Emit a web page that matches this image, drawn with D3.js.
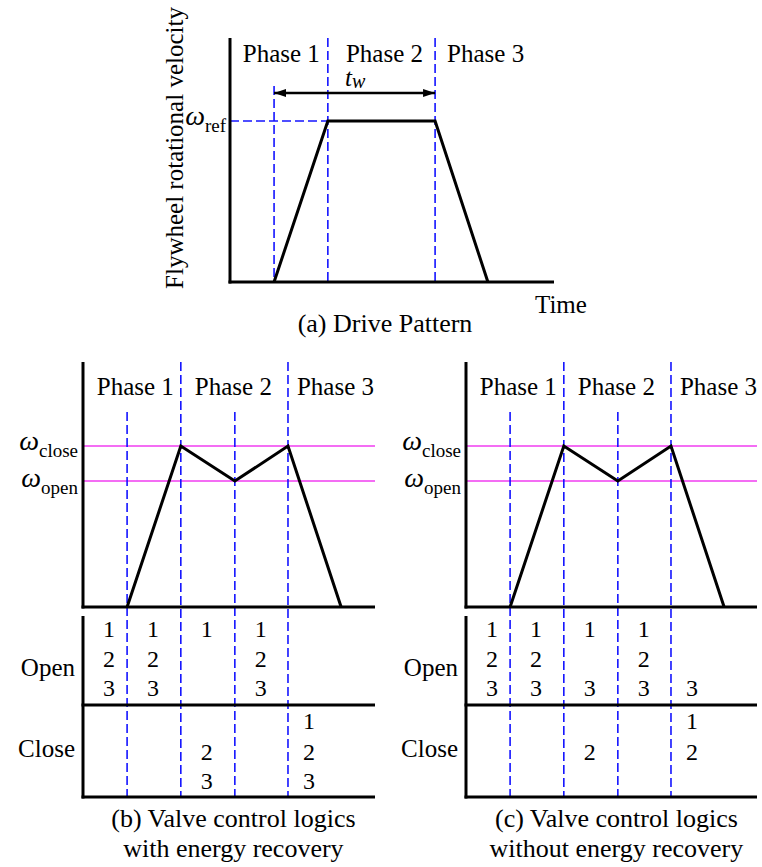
<!DOCTYPE html>
<html>
<head>
<meta charset="utf-8">
<script src="https://cdn.jsdelivr.net/npm/d3@7"></script>
<style>
  html, body { margin: 0; padding: 0; background: #fff; }
  svg { display: block; }
</style>
</head>
<body>
<svg id="chart" width="762" height="867" font-family="'Liberation Serif', Tinos, 'Times New Roman', Times, 'DejaVu Serif', serif"></svg>
<script>
// ---- Data ----
const phaseNames = ["Phase 1", "Phase 2", "Phase 3"];

// (a) Drive pattern: time instants (0–100 time units) and normalised velocity
const driveTime = [13.6, 30.2, 63.3, 79.6];
const driveSpeed = [0, 0.66, 0.66, 0];
const omegaRef = 0.66;

// (b), (c) Velocity profile with valve switching
const valveTime = [15.1, 33.5, 52.0, 70.2, 88.4];
const valveSpeed = [0, 0.657, 0.514, 0.657, 0];
const omegaClose = 0.657;
const omegaOpen = 0.514;

// Valve numbers per control interval
const openWithRecovery = [[1, 2, 3], [1, 2, 3], [1], [1, 2, 3], []];
const closeWithRecovery = [[], [], [2, 3], [], [1, 2, 3]];
const openWithoutRecovery = [[1, 2, 3], [1, 2, 3], [1, 3], [1, 2, 3], [3]];
const closeWithoutRecovery = [[], [], [2], [], [1, 2]];

const captionB = ["(b) Valve control logics", "with energy recovery"];
const captionC = ["(c) Valve control logics", "without energy recovery"];

// ---- Drawing ----
const svg = d3.select("#chart");
const BLUE = "#1414ff", MAGENTA = "#f03cf0";
const DASH = "9,4";

function omegaLabel(g, x, y, sub) {
  const t = g.append("text").attr("x", x).attr("y", y).attr("text-anchor", "end");
  t.append("tspan").attr("font-style", "italic").attr("font-size", 28).text("ω");
  t.append("tspan").attr("font-size", 19).attr("dy", 7).text(sub);
}

// Arrow markers for the t_w span
const defs = svg.append("defs");
["start", "end"].forEach(k => {
  defs.append("marker").attr("id", "arrow-" + k)
    .attr("viewBox", "0 0 12 8").attr("refX", k === "end" ? 12 : 0).attr("refY", 4)
    .attr("markerWidth", 12).attr("markerHeight", 8).attr("markerUnits", "userSpaceOnUse")
    .attr("orient", "auto")
    .append("path")
    .attr("d", k === "end" ? "M0,0 L12,4 L0,8 Z" : "M12,0 L0,4 L12,8 Z")
    .attr("fill", "#000");
});

// ===== (a) Drive Pattern =====
(function drawDrive() {
  const g = svg.append("g");
  const x = d3.scaleLinear().domain([0, 100]).range([230, 554]);
  const y = d3.scaleLinear().domain([0, 1]).range([282, 38]);

  // Dashed guides
  g.append("line").attr("x1", x(driveTime[0])).attr("x2", x(driveTime[0]))
    .attr("y1", 86).attr("y2", y(0))
    .attr("stroke", BLUE).attr("stroke-width", 1.6).attr("stroke-dasharray", DASH);
  [driveTime[1], driveTime[2]].forEach(t => {
    g.append("line").attr("x1", x(t)).attr("x2", x(t)).attr("y1", y(1)).attr("y2", y(0))
      .attr("stroke", BLUE).attr("stroke-width", 1.6).attr("stroke-dasharray", DASH);
  });
  g.append("line").attr("x1", x(0)).attr("x2", x(driveTime[1]))
    .attr("y1", y(omegaRef)).attr("y2", y(omegaRef))
    .attr("stroke", BLUE).attr("stroke-width", 1.6).attr("stroke-dasharray", DASH);

  // Axes
  g.append("line").attr("x1", x(0)).attr("x2", x(0)).attr("y1", y(1)).attr("y2", y(0) + 1.5)
    .attr("stroke", "#000").attr("stroke-width", 3);
  g.append("line").attr("x1", x(0) - 1.5).attr("x2", x(100)).attr("y1", y(0)).attr("y2", y(0))
    .attr("stroke", "#000").attr("stroke-width", 3);

  // Velocity profile
  const line = d3.line().x((d, i) => x(driveTime[i])).y(d => y(d));
  g.append("path").attr("d", line(driveSpeed))
    .attr("fill", "none").attr("stroke", "#000").attr("stroke-width", 3)
    .attr("stroke-linejoin", "miter");

  // t_w span arrow
  g.append("line").attr("x1", x(driveTime[0])).attr("x2", x(driveTime[2]))
    .attr("y1", 93).attr("y2", 93)
    .attr("stroke", "#000").attr("stroke-width", 2.5)
    .attr("marker-start", "url(#arrow-start)").attr("marker-end", "url(#arrow-end)");
  const tw = g.append("text").attr("x", 345).attr("y", 86).attr("font-style", "italic");
  tw.append("tspan").attr("font-size", 25).text("t");
  tw.append("tspan").attr("font-size", 20).attr("dy", 2).text("w");

  // Phase labels
  const b = [x(0), x(driveTime[1]), x(driveTime[2]), x(100)];
  g.append("text").attr("x", b[1] - 8).attr("y", 62).attr("text-anchor", "end")
    .attr("font-size", 25).text(phaseNames[0]);
  g.append("text").attr("x", (b[1] + b[2]) / 2 + 3).attr("y", 62).attr("text-anchor", "middle")
    .attr("font-size", 25).text(phaseNames[1]);
  g.append("text").attr("x", b[2] + 12).attr("y", 62).attr("text-anchor", "start")
    .attr("font-size", 25).text(phaseNames[2]);

  omegaLabel(g, x(0) - 4, 125, "ref");

  g.append("text").attr("x", 535).attr("y", 313).attr("font-size", 25).text("Time");
  g.append("text").attr("transform", "translate(183,148) rotate(-90)")
    .attr("text-anchor", "middle").attr("font-size", 25).text("Flywheel rotational velocity");
  g.append("text").attr("x", 385).attr("y", 332).attr("text-anchor", "middle")
    .attr("font-size", 26).text("(a) Drive Pattern");
})();

// ===== (b), (c) Valve control logics =====
function drawValvePanel(x0, openSets, closeSets, caption) {
  const g = svg.append("g");
  const x = d3.scaleLinear().domain([0, 100]).range([x0, x0 + 292]);
  const y = d3.scaleLinear().domain([0, 1]).range([607, 362]);
  const tableTop = 616, tableMid = 705, tableBottom = 797;

  // Magenta thresholds
  [omegaClose, omegaOpen].forEach(w => {
    g.append("line").attr("x1", x(0)).attr("x2", Math.min(x(100), 757))
      .attr("y1", y(w)).attr("y2", y(w))
      .attr("stroke", MAGENTA).attr("stroke-width", 1.5);
  });

  // Dashed switching guides (phase boundaries run full height)
  valveTime.slice(0, 4).forEach((t, i) => {
    g.append("line").attr("x1", x(t)).attr("x2", x(t))
      .attr("y1", i % 2 === 1 ? y(1) : 412).attr("y2", tableBottom)
      .attr("stroke", BLUE).attr("stroke-width", 1.6).attr("stroke-dasharray", DASH);
  });

  // Axes
  g.append("line").attr("x1", x(0)).attr("x2", x(0)).attr("y1", y(1)).attr("y2", y(0) + 1.5)
    .attr("stroke", "#000").attr("stroke-width", 3);
  g.append("line").attr("x1", x(0) - 1.5).attr("x2", Math.min(x(100), 757)).attr("y1", y(0)).attr("y2", y(0))
    .attr("stroke", "#000").attr("stroke-width", 3);

  // Table frame
  g.append("line").attr("x1", x(0)).attr("x2", x(0)).attr("y1", tableTop).attr("y2", tableBottom + 1.5)
    .attr("stroke", "#000").attr("stroke-width", 3);
  [tableMid, tableBottom].forEach(yy => {
    g.append("line").attr("x1", x(0) - 1.5).attr("x2", Math.min(x(100), 757)).attr("y1", yy).attr("y2", yy)
      .attr("stroke", "#000").attr("stroke-width", 3);
  });

  // Velocity profile
  const line = d3.line().x((d, i) => x(valveTime[i])).y(d => y(d));
  g.append("path").attr("d", line(valveSpeed))
    .attr("fill", "none").attr("stroke", "#000").attr("stroke-width", 3);

  // Phase labels
  const b1 = x(valveTime[1]), b2 = x(valveTime[3]);
  g.append("text").attr("x", b1 - 7).attr("y", 395).attr("text-anchor", "end")
    .attr("font-size", 25).text(phaseNames[0]);
  g.append("text").attr("x", (b1 + b2) / 2 - 1).attr("y", 395).attr("text-anchor", "middle")
    .attr("font-size", 25).text(phaseNames[1]);
  g.append("text").attr("x", b2 + 9).attr("y", 395).attr("text-anchor", "start")
    .attr("font-size", 25).text(phaseNames[2]);

  omegaLabel(g, x(0) - 5, 450, "close");
  omegaLabel(g, x(0) - 5, 487, "open");

  g.append("text").attr("x", x(0) - 8).attr("y", 676).attr("text-anchor", "end")
    .attr("font-size", 25).text("Open");
  g.append("text").attr("x", x(0) - 8).attr("y", 757).attr("text-anchor", "end")
    .attr("font-size", 25).text("Close");

  // Valve numbers in each interval
  const lefts = [0, ...valveTime.slice(0, 4)].map(t => x(t));
  const colX = lefts.map((l, i) => l + (i === 4 ? 21 : 26));
  const openRows = [637, 667, 696], closeRows = [729, 760, 789];
  openSets.forEach((set, i) => set.forEach(v => {
    g.append("text").attr("x", colX[i]).attr("y", openRows[v - 1]).attr("text-anchor", "middle")
      .attr("font-size", 24).text(v);
  }));
  closeSets.forEach((set, i) => set.forEach(v => {
    g.append("text").attr("x", colX[i]).attr("y", closeRows[v - 1]).attr("text-anchor", "middle")
      .attr("font-size", 24).text(v);
  }));

  // Caption
  const cx = (b1 + b2) / 2 - 1;
  g.append("text").attr("x", cx).attr("y", 827).attr("text-anchor", "middle")
    .attr("font-size", 26).text(caption[0]);
  g.append("text").attr("x", cx).attr("y", 857).attr("text-anchor", "middle")
    .attr("font-size", 26).text(caption[1]);
}

drawValvePanel(83, openWithRecovery, closeWithRecovery, captionB);
drawValvePanel(466, openWithoutRecovery, closeWithoutRecovery, captionC);
</script>
</body>
</html>
